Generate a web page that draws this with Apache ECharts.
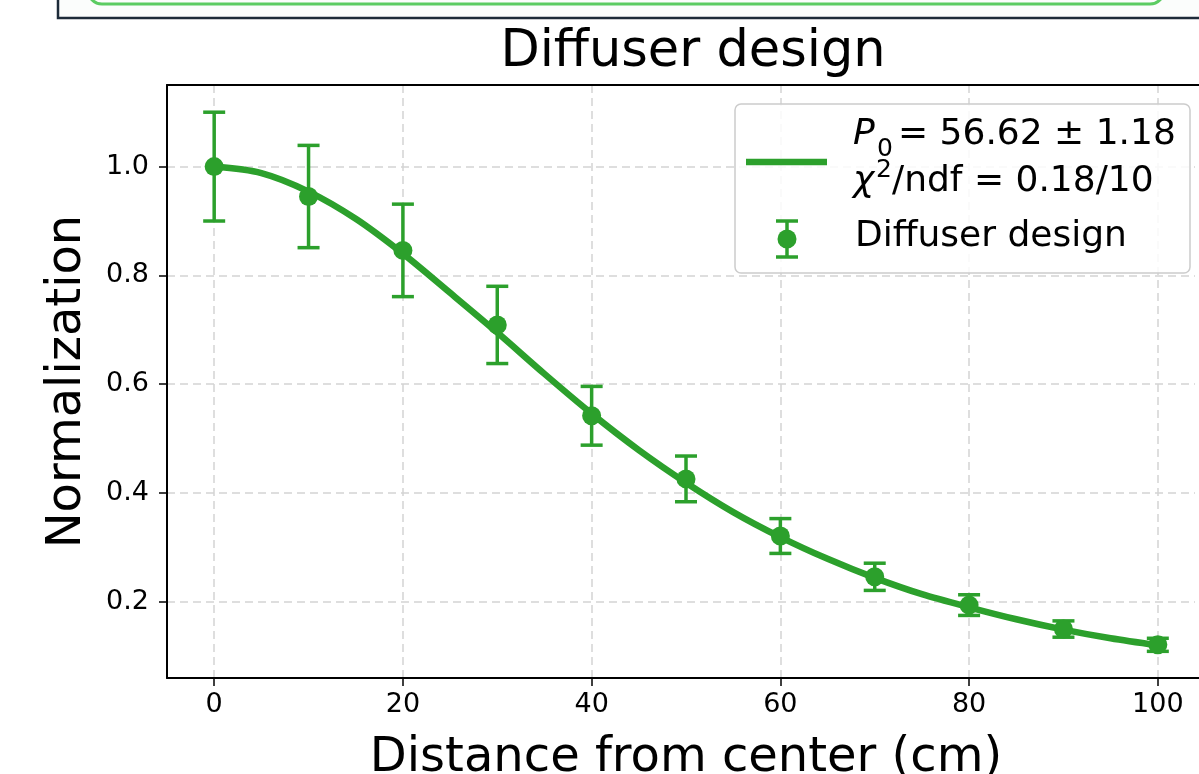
<!DOCTYPE html>
<html>
<head>
<meta charset="utf-8">
<script src="https://cdn.jsdelivr.net/npm/echarts@6/dist/echarts.min.js"></script>
<style>
  html, body { margin: 0; padding: 0; background: #ffffff; }
  #chart { width: 1199px; height: 774px; }
</style>
</head>
<body>
<div id="chart"></div>
<script>
// ---- data ----
const distances = [0, 10, 20, 30, 40, 50, 60, 70, 80, 90, 100];
const normValues = [1.000, 0.945, 0.846, 0.709, 0.542, 0.426, 0.321, 0.246, 0.194, 0.150, 0.121];
const normErrors = [0.100, 0.094, 0.085, 0.071, 0.054, 0.042, 0.032, 0.025, 0.019, 0.015, 0.012];
// fit curve, sampled from the drawn line
const fitX = [0, 5, 10, 15, 20, 25, 30, 35, 40, 45, 50, 55, 60, 65, 70, 75, 80, 85, 90, 95, 100];
const fitY = [1.000, 0.988, 0.954, 0.904, 0.840, 0.768, 0.695, 0.619, 0.546, 0.479, 0.419, 0.365, 0.319, 0.279, 0.244, 0.214, 0.190, 0.168, 0.149, 0.133, 0.120];
const xTicks = [0, 20, 40, 60, 80, 100];
const yTicks = [0.2, 0.4, 0.6, 0.8, 1.0];
const titleText = 'Diffuser design';
const xName = 'Distance from center (cm)';
const yName = 'Normalization';
const seriesName = 'Diffuser design';

const GREEN = '#2ca02c';
const FONT = 'DejaVu Sans';

const pointData = distances.map((d, i) => [d, normValues[i]]);
const errData = distances.map((d, i) => [d, normValues[i] - normErrors[i], normValues[i] + normErrors[i]]);
const fitData = fitX.map((d, i) => [d, fitY[i]]);

const chart = echarts.init(document.getElementById('chart'), null, { renderer: 'canvas' });

// y given as the vertical middle of the glyphs
const legendText = (x, y, text, size, italic) => ({
  type: 'text', x: x, y: y, z: 101,
  style: { text: text, fill: '#000', font: (italic ? 'italic ' : '') + size + 'px "' + FONT + '"', verticalAlign: 'middle', align: 'left' }
});

const option = {
  backgroundColor: '#ffffff',
  animation: false,
  title: {
    text: titleText,
    left: 688, top: 22,
    textAlign: 'center',
    textStyle: { fontFamily: FONT, fontSize: 51, fontWeight: 'normal', color: '#000' }
  },
  grid: {
    left: 167, top: 85, width: 1038, height: 593,
    outerBoundsMode: 'none', containLabel: false, show: false
  },
  xAxis: [{
    type: 'value', min: -5, max: 105,
    name: xName, nameLocation: 'middle', nameGap: 57,
    nameTextStyle: { fontFamily: FONT, fontSize: 48, color: '#000' },
    axisLine: { show: true, onZero: false, lineStyle: { color: '#000', width: 2 } },
    axisTick: { show: true, customValues: xTicks, length: 8, lineStyle: { color: '#000', width: 1.5 } },
    axisLabel: { customValues: xTicks, margin: 13, fontFamily: FONT, fontSize: 27, color: '#000' },
    splitLine: { show: true, lineStyle: { color: '#d4d4d4', type: [8, 5], width: 1.5 } }
  }, {
    // top frame line
    type: 'value', position: 'top', min: -5, max: 105,
    axisLine: { show: true, onZero: false, lineStyle: { color: '#000', width: 2 } },
    axisTick: { show: false }, axisLabel: { show: false }, splitLine: { show: false }
  }],
  yAxis: {
    type: 'value', min: 0.06, max: 1.15,
    name: yName, nameLocation: 'middle', nameGap: 75, nameRotate: 90,
    nameTextStyle: { fontFamily: FONT, fontSize: 48, color: '#000' },
    axisLine: { show: true, onZero: false, lineStyle: { color: '#000', width: 2 } },
    axisTick: { show: true, customValues: yTicks, length: 8, lineStyle: { color: '#000', width: 1.5 } },
    axisLabel: { customValues: yTicks, margin: 18, fontFamily: FONT, fontSize: 27, color: '#000',
      formatter: v => v.toFixed(1) },
    splitLine: { show: true, lineStyle: { color: '#d4d4d4', type: [8, 5], width: 1.5 } }
  },
  series: [
    {
      name: 'fit', type: 'line', data: fitData, smooth: 0.3, showSymbol: false,
      lineStyle: { color: GREEN, width: 6.5 }, z: 3, silent: true
    },
    {
      name: seriesName + ' err', type: 'custom', data: errData, z: 4, silent: true,
      renderItem: function (params, api) {
        const x = api.value(0);
        const lo = api.coord([x, api.value(1)]);
        const hi = api.coord([x, api.value(2)]);
        const hw = 11;
        const st = { stroke: GREEN, lineWidth: 3.5 };
        return {
          type: 'group',
          children: [
            { type: 'line', shape: { x1: lo[0], y1: lo[1], x2: hi[0], y2: hi[1] }, style: st },
            { type: 'line', shape: { x1: lo[0] - hw, y1: lo[1], x2: lo[0] + hw, y2: lo[1] }, style: st },
            { type: 'line', shape: { x1: hi[0] - hw, y1: hi[1], x2: hi[0] + hw, y2: hi[1] }, style: st }
          ]
        };
      }
    },
    {
      name: seriesName, type: 'scatter', data: pointData, symbol: 'circle', symbolSize: 19,
      itemStyle: { color: GREEN, opacity: 1 }, z: 5
    }
  ],
  graphic: [
    // top decoration (part of a frame cropped at the top of the picture)
    { type: 'rect', shape: { x: 58, y: -30, width: 1200, height: 48 }, style: { fill: '#fbfdfc', stroke: '#1d2b39', lineWidth: 2.5 }, z: 1 },
    { type: 'rect', shape: { x: 88, y: -50, width: 1076, height: 54, r: 14 }, style: { fill: 'none', stroke: '#5bcc62', lineWidth: 3 }, z: 2 },
    // keep the right edge of the plot open, as in the cropped reference
    { type: 'rect', shape: { x: 1195, y: 87, width: 6, height: 590 }, style: { fill: '#ffffff' }, z: 50 },
    // legend
    { type: 'rect', shape: { x: 735, y: 104, width: 455, height: 169, r: 6 }, style: { fill: 'rgba(255,255,255,0.85)', stroke: '#cccccc', lineWidth: 1.5 }, z: 100 },
    { type: 'line', shape: { x1: 746, y1: 162, x2: 827, y2: 162 }, style: { stroke: GREEN, lineWidth: 6.5 }, z: 101 },
    { type: 'line', shape: { x1: 787, y1: 221, x2: 787, y2: 257 }, style: { stroke: GREEN, lineWidth: 3.5 }, z: 101 },
    { type: 'line', shape: { x1: 776, y1: 221, x2: 798, y2: 221 }, style: { stroke: GREEN, lineWidth: 3.5 }, z: 101 },
    { type: 'line', shape: { x1: 776, y1: 257, x2: 798, y2: 257 }, style: { stroke: GREEN, lineWidth: 3.5 }, z: 101 },
    { type: 'circle', shape: { cx: 787, cy: 239, r: 9.5 }, style: { fill: GREEN }, z: 101 },
    legendText(853, 135, 'P', 36, true),
    legendText(877, 149, '0', 25, false),
    legendText(898, 135, '= 56.62 ± 1.18', 36, false),
    legendText(853, 182, 'χ', 36, true),
    legendText(876, 170, '2', 25, false),
    legendText(892, 182, '/ndf = 0.18/10', 36, false),
    legendText(855, 237, seriesName, 36, false)
  ]
};
chart.setOption(option);
</script>
</body>
</html>
